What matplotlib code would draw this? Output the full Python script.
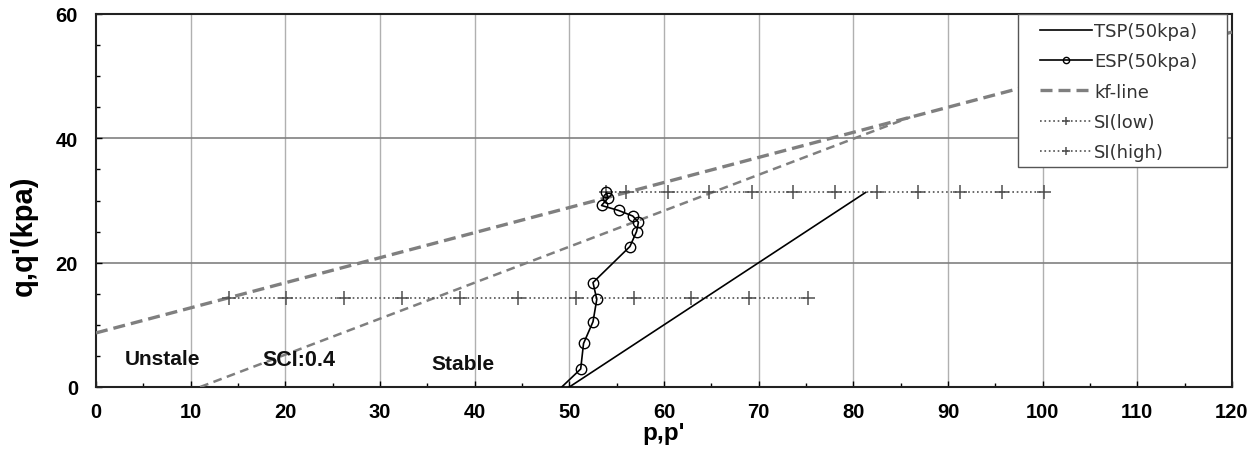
import matplotlib
matplotlib.use('Agg')
import matplotlib.pyplot as plt
from matplotlib.patches import Rectangle
from matplotlib.ticker import MultipleLocator

# total stress path
tsp_p = [50.0, 81.3]
tsp_q = [0.0, 31.3]

# effective stress path
esp_p = [49.2, 51.2, 51.5, 52.5, 52.9, 52.5, 56.4, 57.1, 57.3, 56.7, 55.2, 53.4, 54.1, 53.9]
esp_q = [0.0, 2.9, 7.0, 10.5, 14.1, 16.8, 22.6, 25.0, 26.5, 27.5, 28.4, 29.2, 30.4, 31.3]

# kf-lines
kf_p = [0.0, 120.0]
kf_q = [8.7, 57.1]
sci_p = [11.0, 86.0]
sci_q = [0.0, 43.4]

# stability index lines
si_low_p = [14.0, 20.1, 26.2, 32.3, 38.5, 44.6, 50.7, 56.8, 62.9, 69.0, 75.2]
si_low_q = [14.3] * len(si_low_p)
si_high_p = [53.9, 56.0, 60.4, 64.8, 69.3, 73.6, 78.1, 82.5, 86.8, 91.3, 95.7, 100.1]
si_high_q = [31.3] * len(si_high_p)

GRAY = '#7f7f7f'
W, H = 1260, 452
L, R, T, B = 96, 1232, 15, 388

plt.rcParams['font.family'] = ['Liberation Sans', 'DejaVu Sans']
plt.rcParams['font.weight'] = 'bold'

fig = plt.figure(figsize=(W / 100, H / 100), dpi=100)
ax = fig.add_axes([L / W, (H - B) / H, (R - L) / W, (B - T) / H])

ax.plot(tsp_p, tsp_q, color='black', lw=1.2, label='TSP(50kpa)', zorder=4)
ax.plot(esp_p, esp_q, color='black', lw=1.2, marker='o', ms=7.5, mfc='none',
        mew=1.0, markevery=slice(1, None), label='ESP(50kpa)', zorder=5)
ax.plot(kf_p, kf_q, color=GRAY, lw=2.4, dashes=(3.6, 1.8), label='kf-line', zorder=3)
ax.plot(sci_p, sci_q, color=GRAY, lw=1.8, dashes=(3.5, 2.2), zorder=3)
ax.plot(si_low_p, si_low_q, color='#505050', lw=1.2, ls=':', marker='+', ms=10,
        mew=1.1, label='SI(low)', zorder=3)
ax.plot(si_high_p, si_high_q, color='#505050', lw=1.2, ls=':', marker='+', ms=10,
        mew=1.1, label='SI(high)', zorder=3)

ax.set_xlim(0, 120)
ax.set_ylim(0, 60)
ax.xaxis.set_major_locator(MultipleLocator(10))
ax.xaxis.set_minor_locator(MultipleLocator(5))
ax.yaxis.set_major_locator(MultipleLocator(20))
ax.yaxis.set_minor_locator(MultipleLocator(5))
ax.tick_params(which='both', direction='in', length=4, width=1, labelsize=14.5)
ax.tick_params(which='minor', length=3)
ax.tick_params(axis='x', pad=11)
ax.tick_params(axis='y', pad=13)

for v in range(10, 121, 10):
    ax.axvline(v, color='#b0b0b0', lw=1.0, zorder=1)
for v in (20, 40):
    ax.axhline(v, color='#808080', lw=1.2, zorder=1)

for s in ax.spines.values():
    s.set_linewidth(1.5)
    s.set_color('#222222')

ax.set_xlabel("p,p'", fontweight='bold', fontsize=17.5, labelpad=0)
ax.set_ylabel("q,q'(kpa)", fontweight='bold', fontsize=21)
ax.yaxis.set_label_coords((38 - L) / (R - L), (B - 236) / (B - T))

ann = dict(fontweight='bold', fontsize=15, color='#111111')
ax.text(3.0, 4.6, 'Unstale', ha='left', va='center', **ann)
ax.text(17.6, 4.4, 'SCI:0.4', ha='left', va='center', **dict(ann, fontsize=15.5))
ax.text(35.4, 3.8, 'Stable', ha='left', va='center', **ann)

# legend frame drawn by hand so the padding matches the original
box = Rectangle(((1018 - L) / (R - L), (B - 168) / (B - T)), (1227 - 1018) / (R - L),
                (168 - T) / (B - T), transform=ax.transAxes, facecolor='white',
                edgecolor='#555555', lw=1.0, zorder=10)
ax.add_patch(box)
leg = ax.legend(loc='upper left', bbox_to_anchor=((1040 - L) / (R - L), (B - 23) / (B - T)),
                borderaxespad=0, frameon=False,
                prop={'family': 'DejaVu Sans', 'weight': 'normal', 'size': 13},
                handlelength=2.9, handletextpad=0.1, labelspacing=0.68, numpoints=1,
                markerscale=0.6, borderpad=0)
leg.set_zorder(11)
for t in leg.get_texts():
    t.set_color('#333333')

fig.savefig('out.png', dpi=100)
